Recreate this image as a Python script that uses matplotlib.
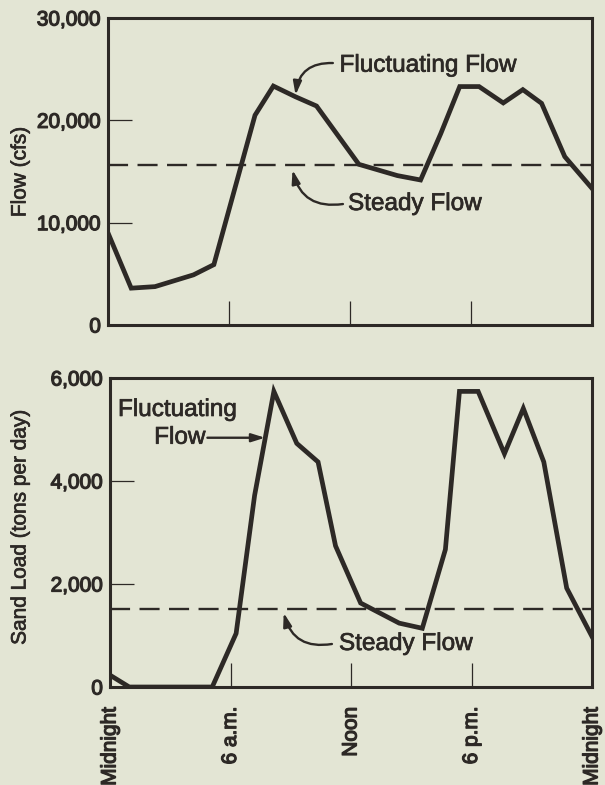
import matplotlib
matplotlib.use("Agg")
import matplotlib.pyplot as plt
import matplotlib.patheffects as pe

# ---------------- data ----------------
flow_hours = [0.0, 1.15, 2.33, 4.24, 5.25, 7.29, 8.2, 9.3, 10.34, 12.44, 14.35, 15.5,
              16.5, 17.44, 18.4, 19.6, 20.57, 21.5, 22.65, 24.0]
flow_cfs = [9000, 3600, 3750, 4900, 5900, 20500, 23350, 22300, 21400, 15700, 14600, 14170,
            18700, 23300, 23300, 21700, 23000, 21660, 16450, 13350]
steady_flow = 15600

sand_hours = [0.0, 0.96, 5.09, 6.28, 7.2, 8.16, 9.3, 10.36, 11.23, 12.48, 14.4, 15.55,
              16.7, 17.4, 18.33, 19.64, 20.58, 21.6, 22.74, 24.0]
sand_load = [230, 0, 0, 1040, 3720, 5740, 4730, 4370, 2740, 1630, 1240, 1140,
             2670, 5740, 5740, 4530, 5410, 4370, 1920, 980]
steady_sand = 1520

time_ticks = [0, 6, 12, 18, 24]
time_labels = ["Midnight", "6 a.m.", "Noon", "6 p.m.", "Midnight"]
flow_ticks = [0, 10000, 20000, 30000]
flow_tick_labels = ["0", "10,000", "20,000", "30,000"]
sand_ticks = [0, 2000, 4000, 6000]
sand_tick_labels = ["0", "2,000", "4,000", "6,000"]

# ---------------- style ----------------
BG = "#e3e5d4"
INK = "#2d2926"
plt.rcParams['font.family'] = ['Liberation Sans', 'DejaVu Sans']

W, H = 605, 785
fig = plt.figure(figsize=(W / 100, H / 100), dpi=100, facecolor=BG)

heavy = [pe.withStroke(linewidth=0.9, foreground=INK)]
medium = [pe.withStroke(linewidth=0.5, foreground=INK)]

def box(l, t, r, b):
    return [l / W, 1 - b / H, (r - l) / W, (b - t) / H]

ax1 = fig.add_axes(box(108, 18, 592, 325))
ax2 = fig.add_axes(box(110, 378, 592, 687))

for ax in (ax1, ax2):
    ax.set_facecolor(BG)
    for s in ax.spines.values():
        s.set_linewidth(2.2)
        s.set_color(INK)
    ax.set_xlim(0, 24)
    ax.set_xticks(time_ticks)
    ax.tick_params(direction='in', length=17, width=0.9, color=INK,
                   labelsize=15, labelcolor=INK, pad=5)

# top panel
ax1.plot(flow_hours, flow_cfs, color=INK, lw=3.4, solid_joinstyle='miter')
dl = ax1.axhline(steady_flow, color=INK, lw=1.7)
dl.set_dashes((8.5, 4))
ax1.set_ylim(0, 30000)
ax1.set_yticks(flow_ticks)
ax1.set_yticklabels(flow_tick_labels)
ax1.set_xticklabels([])

arrow_kw = dict(arrowstyle='-|>,head_length=0.8,head_width=0.25', color=INK, lw=1.7,
                shrinkA=0, shrinkB=0)
t1 = ax1.text(11.48, 25340, "Fluctuating Flow", fontsize=17.5, color=INK, ha='left', va='center')
ax1.annotate("", xy=(9.3, 22475), xytext=(11.15, 25600),
             arrowprops=dict(connectionstyle='arc3,rad=0.45', **arrow_kw))
t2 = ax1.text(11.9, 11820, "Steady Flow", fontsize=17.5, color=INK, ha='left', va='center')
ax1.annotate("", xy=(9.15, 15150), xytext=(11.65, 11820),
             arrowprops=dict(connectionstyle='arc3,rad=-0.45', **arrow_kw))

# bottom panel
ax2.plot(sand_hours, sand_load, color=INK, lw=3.4, solid_joinstyle='miter')
dl2 = ax2.axhline(steady_sand, color=INK, lw=1.7)
dl2.set_dashes((8.5, 4))
ax2.set_ylim(0, 6000)
ax2.set_yticks(sand_ticks)
ax2.set_yticklabels(sand_tick_labels)
ax2.set_xticklabels(time_labels, rotation=90)
ax2.tick_params(axis='x', pad=14)

t3 = ax2.text(3.35, 5379, "Fluctuating", fontsize=17.5, color=INK, ha='center', va='center')
t4 = ax2.text(4.75, 4840, "Flow", fontsize=17.5, color=INK, ha='right', va='center')
ax2.annotate("", xy=(7.72, 4840), xytext=(4.85, 4840), arrowprops=dict(**arrow_kw))
t5 = ax2.text(11.4, 835, "Steady Flow", fontsize=17.5, color=INK, ha='left', va='center')
ax2.annotate("", xy=(8.65, 1440), xytext=(11.05, 835),
             arrowprops=dict(connectionstyle='arc3,rad=-0.45', **arrow_kw))

t6 = fig.text(20 / W, 1 - 172 / H, "Flow (cfs)", rotation=90, fontsize=15, color=INK,
              ha='center', va='center')
t7 = fig.text(20 / W, 1 - 527 / H, "Sand Load (tons per day)", rotation=90, fontsize=15,
              color=INK, ha='center', va='center')

for t in (t1, t2, t3, t4, t5, t6, t7):
    t.set_path_effects(medium)
for ax in (ax1, ax2):
    for lab in ax.get_xticklabels() + ax.get_yticklabels():
        lab.set_path_effects(heavy)

fig.savefig("out.png", dpi=100, facecolor=BG)
